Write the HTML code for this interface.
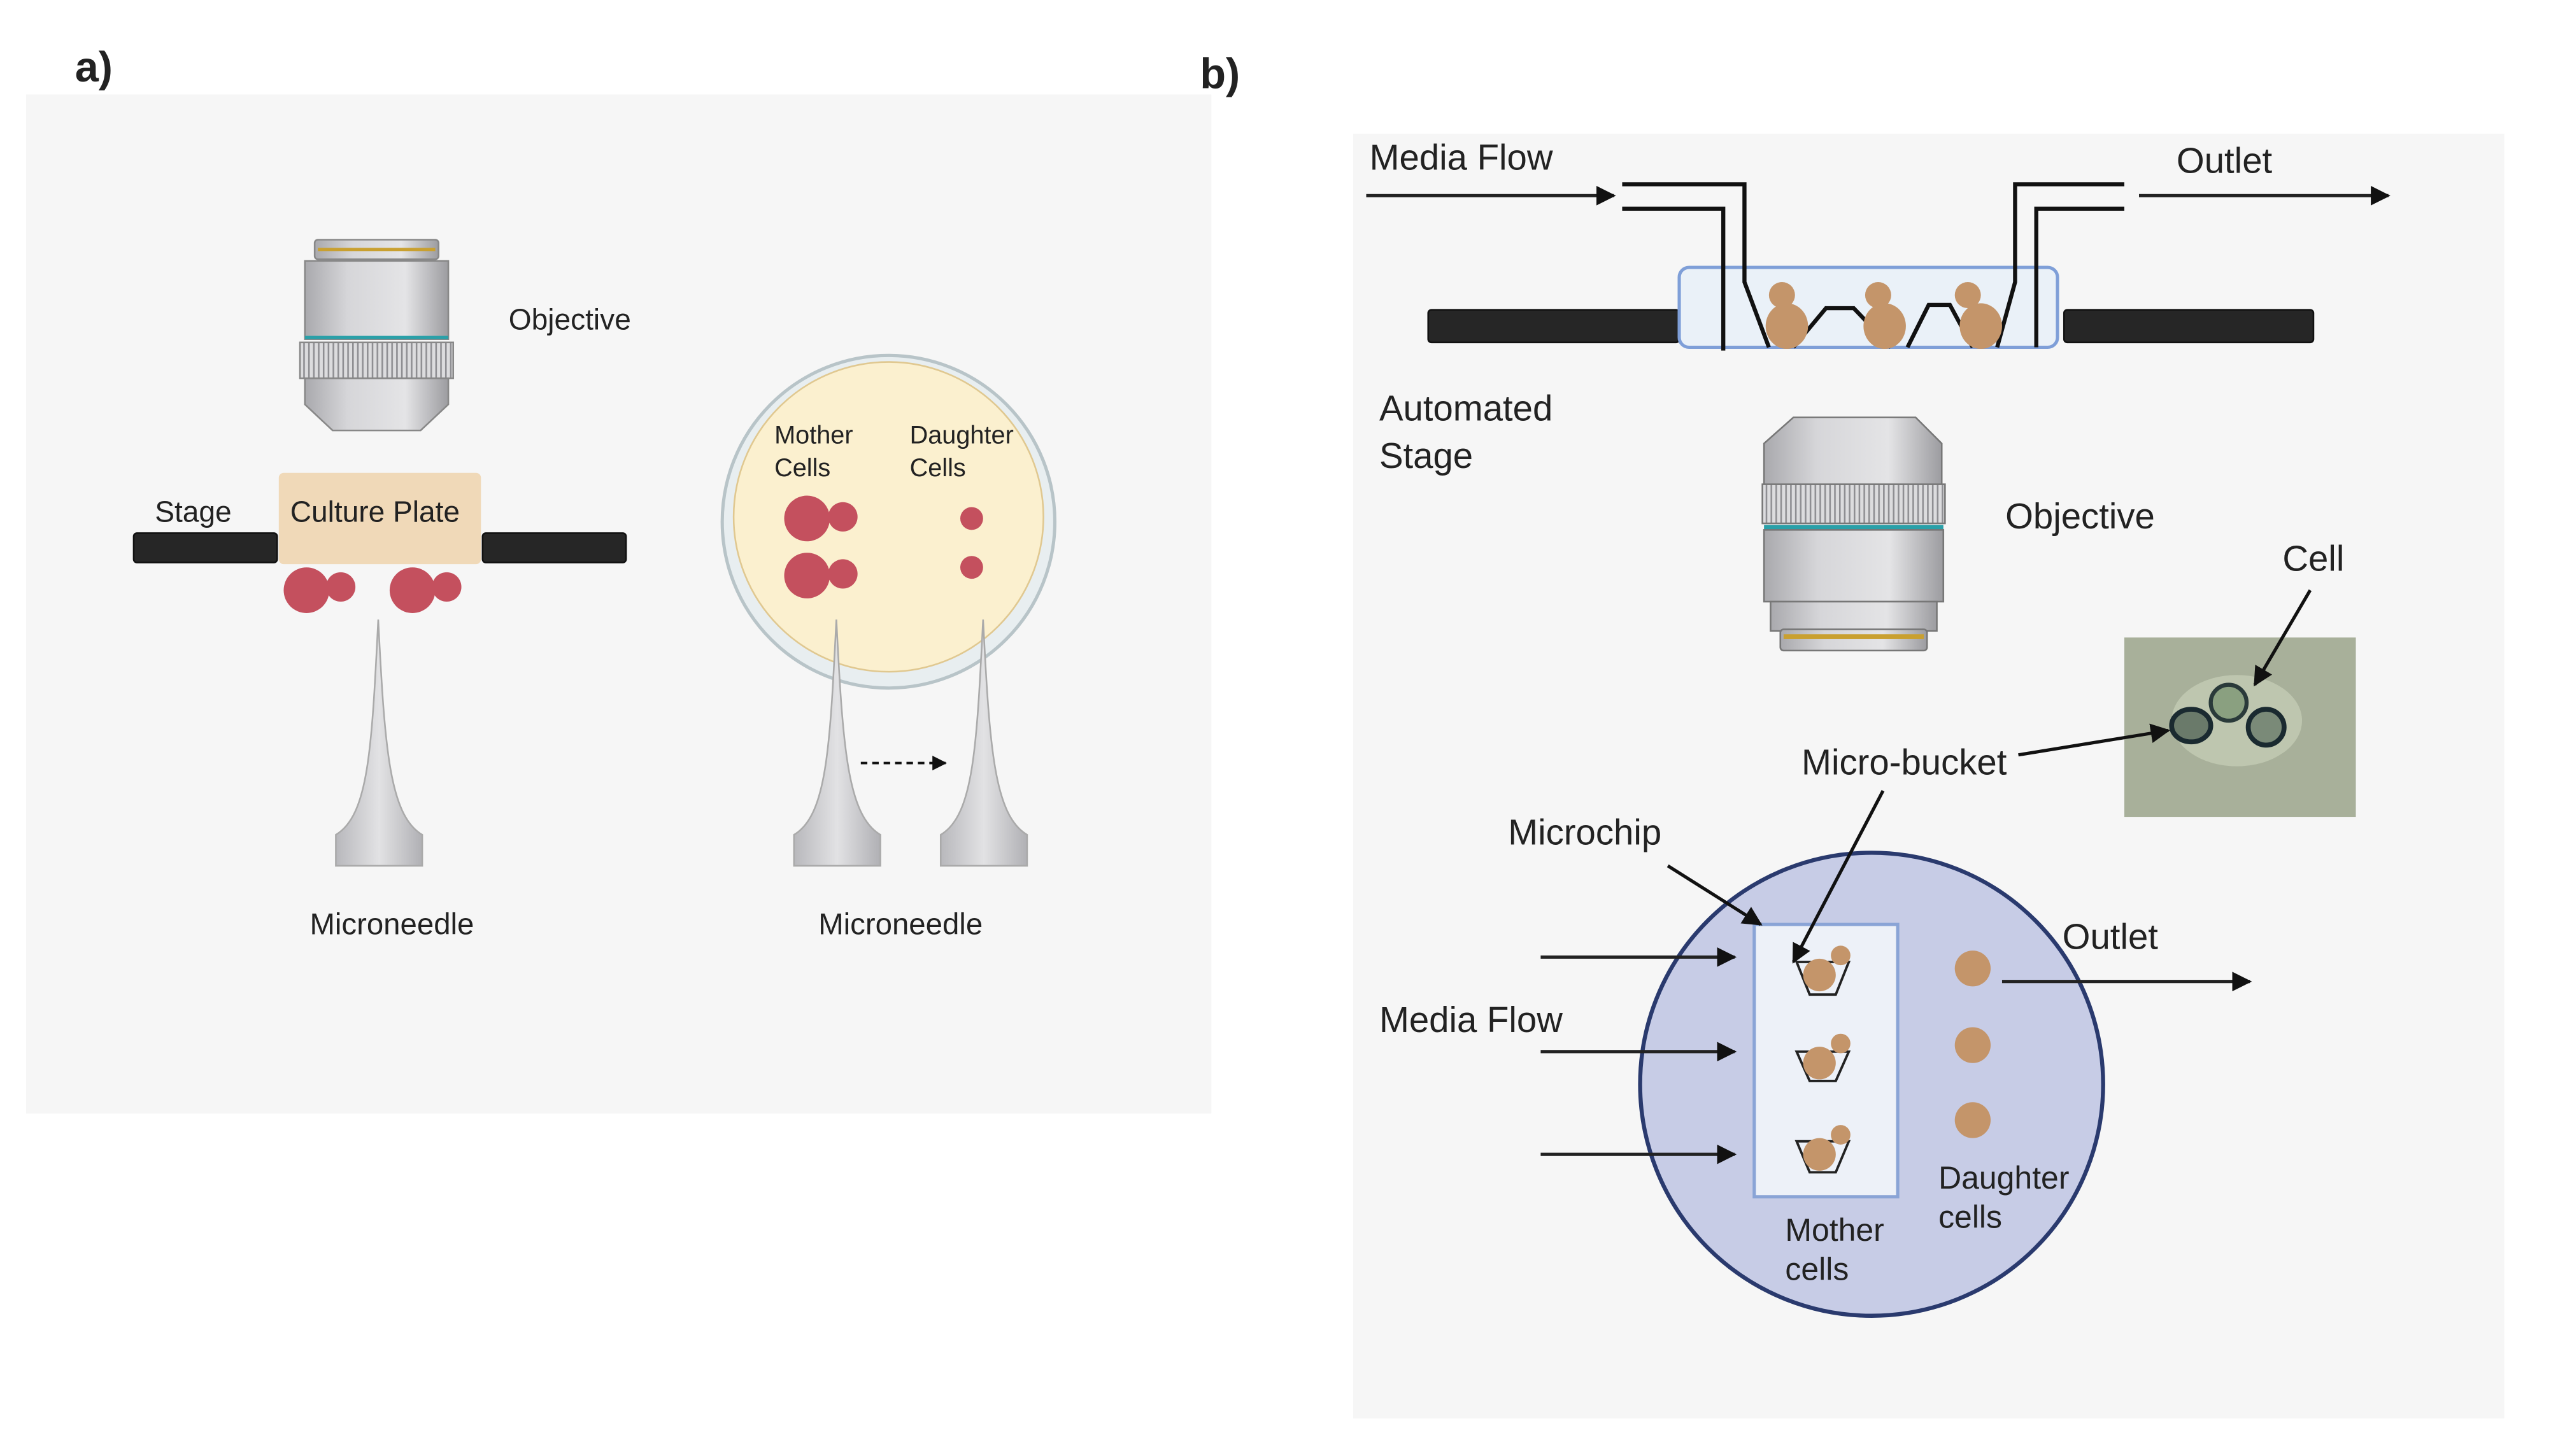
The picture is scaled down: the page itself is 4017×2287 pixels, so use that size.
<!DOCTYPE html>
<html><head><meta charset="utf-8"><style>html,body{margin:0;padding:0;background:#fff}svg{display:block}text{font-family:"Liberation Sans",sans-serif;fill:#222}</style></head>
<body>
<svg width="4017" height="2287" viewBox="0 0 1569 893" preserveAspectRatio="none" xmlns="http://www.w3.org/2000/svg">
<defs>
<linearGradient id="lens" x1="0" x2="1"><stop offset="0" stop-color="#a9a9ad"/><stop offset=".3" stop-color="#d6d6d9"/><stop offset=".7" stop-color="#e4e4e6"/><stop offset="1" stop-color="#9c9ca0"/></linearGradient>
<linearGradient id="needle" x1="0" x2="1"><stop offset="0" stop-color="#b8b8bc"/><stop offset=".5" stop-color="#e2e2e4"/><stop offset="1" stop-color="#b0b0b4"/></linearGradient>
<marker id="ar" viewBox="0 0 10 10" refX="9" refY="5" markerWidth="6" markerHeight="6" orient="auto"><path d="M0,0L10,5L0,10z" fill="#111"/></marker>
<pattern id="ridge" width="3" height="10" patternUnits="userSpaceOnUse"><rect width="3" height="10" fill="#dcdcde"/><rect width="1" height="10" fill="#8e8e92"/></pattern>
</defs>
<rect width="1569" height="893" fill="#fff"/>
<rect x="16" y="58" width="727" height="625" fill="#f6f6f6"/>
<rect x="830" y="82" width="706" height="788" fill="#f6f6f6"/>
<text x="46" y="50" font-size="26" font-weight="bold">a)</text>
<text x="736" y="54" font-size="26" font-weight="bold">b)</text>

<g>
<rect x="193" y="147" width="76" height="12" rx="2" fill="url(#lens)" stroke="#888"/>
<rect x="195" y="152" width="72" height="2" fill="#c9a030"/>
<rect x="187" y="160" width="88" height="48" fill="url(#lens)" stroke="#888"/>
<rect x="187" y="206" width="88" height="2" fill="#2aa0a8"/>
<rect x="184" y="210" width="94" height="22" fill="url(#ridge)" stroke="#888"/>
<path d="M187,232 L275,232 L275,248 L258,264 L204,264 L187,248Z" fill="url(#lens)" stroke="#888"/>
</g>
<text x="312" y="202" font-size="18">Objective</text>
<rect x="82" y="327" width="88" height="18" rx="2" fill="#262626" stroke="#111"/>
<rect x="296" y="327" width="88" height="18" rx="2" fill="#262626" stroke="#111"/>
<rect x="171" y="290" width="124" height="56" rx="3" fill="#f0d9b8"/>
<text x="178" y="320" font-size="18">Culture Plate</text>
<text x="95" y="320" font-size="18">Stage</text>
<g fill="#c4505e"><circle cx="188" cy="362" r="14"/><circle cx="209" cy="360" r="9"/><circle cx="253" cy="362" r="14"/><circle cx="274" cy="360" r="9"/></g>
<path d="M232,380 C228,460 226,500 206,512 L206,531 L259,531 L259,512 C239,500 236,460 232,380Z" fill="url(#needle)" stroke="#aaa"/>
<text x="190" y="573" font-size="18.5">Microneedle</text>

<circle cx="545" cy="320" r="102" fill="#e8eef0" stroke="#b8c4c8" stroke-width="2"/>
<circle cx="545" cy="317" r="95" fill="#fbf0cf" stroke="#e0c890"/>
<text x="475" y="272" font-size="15.5">Mother</text><text x="475" y="292" font-size="15.5">Cells</text>
<text x="558" y="272" font-size="15.5">Daughter</text><text x="558" y="292" font-size="15.5">Cells</text>
<g fill="#c4505e"><circle cx="495" cy="318" r="14"/><circle cx="517" cy="317" r="9"/><circle cx="495" cy="353" r="14"/><circle cx="517" cy="352" r="9"/><circle cx="596" cy="318" r="7"/><circle cx="596" cy="348" r="7"/></g>
<path d="M513,380 C509,460 507,500 487,512 L487,531 L540,531 L540,512 C520,500 517,460 513,380Z" fill="url(#needle)" stroke="#aaa"/>
<path d="M603,380 C599,460 597,500 577,512 L577,531 L630,531 L630,512 C610,500 607,460 603,380Z" fill="url(#needle)" stroke="#aaa"/>
<line x1="528" y1="468" x2="580" y2="468" stroke="#111" stroke-width="1.5" stroke-dasharray="4,3" marker-end="url(#ar)"/>
<text x="502" y="573" font-size="18.5">Microneedle</text>

<text x="840" y="104" font-size="22">Media Flow</text>
<text x="1335" y="106" font-size="22">Outlet</text>
<line x1="838" y1="120" x2="990" y2="120" stroke="#222" stroke-width="2" marker-end="url(#ar)"/>
<line x1="1312" y1="120" x2="1465" y2="120" stroke="#222" stroke-width="2" marker-end="url(#ar)"/>
<rect x="876" y="190" width="154" height="20" rx="2" fill="#262626" stroke="#111"/>
<rect x="1266" y="190" width="153" height="20" rx="2" fill="#262626" stroke="#111"/>
<rect x="1030" y="164" width="232" height="49" rx="6" fill="#eaf1f8" stroke="#7f9fd8" stroke-width="2"/>
<g fill="none" stroke="#111" stroke-width="2.5">
<path d="M995,113 L1070,113 L1070,173 L1085,213"/>
<path d="M995,128 L1057,128 L1057,215"/>
<path d="M1303,113 L1236,113 L1236,173 L1225,213"/>
<path d="M1303,128 L1249,128 L1249,213"/>
<path d="M1100,213 L1120,189 L1137,189 L1160,213"/>
<path d="M1170,213 L1183,187 L1196,187 L1210,213"/>
</g>
<g fill="#c4956a"><circle cx="1093" cy="181" r="8"/><ellipse cx="1096" cy="200" rx="13" ry="14"/><circle cx="1152" cy="181" r="8"/><ellipse cx="1156" cy="200" rx="13" ry="14"/><circle cx="1207" cy="181" r="8"/><ellipse cx="1215" cy="200" rx="13" ry="14"/></g>
<text x="846" y="258" font-size="22">Automated</text>
<text x="846" y="287" font-size="22">Stage</text>
<g>
<path d="M1100,256 L1175,256 L1191,272 L1191,298 L1082,298 L1082,272Z" fill="url(#lens)" stroke="#777"/>
<rect x="1081" y="297" width="112" height="24" fill="url(#ridge)" stroke="#777"/>
<rect x="1082" y="322" width="110" height="3" fill="#2aa0a8"/>
<rect x="1082" y="325" width="110" height="44" fill="url(#lens)" stroke="#777"/>
<rect x="1086" y="369" width="102" height="18" fill="url(#lens)" stroke="#777"/>
<rect x="1092" y="386" width="90" height="13" rx="2" fill="url(#lens)" stroke="#777"/>
<rect x="1094" y="389" width="86" height="3" fill="#c9a030"/>
</g>
<text x="1230" y="324" font-size="22">Objective</text>
<text x="1400" y="350" font-size="22">Cell</text>
<rect x="1303" y="391" width="142" height="110" fill="#a8b09a"/>
<ellipse cx="1372" cy="442" rx="40" ry="28" fill="#c8d0b8" opacity=".7"/>
<ellipse cx="1344" cy="445" rx="12" ry="10" fill="#6a7a6a" stroke="#1a2a30" stroke-width="3"/>
<ellipse cx="1367" cy="431" rx="11" ry="11" fill="#8aa080" stroke="#2a3a3a" stroke-width="2.5"/>
<ellipse cx="1390" cy="446" rx="11" ry="11" fill="#7a8a78" stroke="#1a2a30" stroke-width="3"/>
<line x1="1417" y1="362" x2="1383" y2="420" stroke="#111" stroke-width="2" marker-end="url(#ar)"/>
<line x1="1238" y1="463" x2="1330" y2="448" stroke="#111" stroke-width="2" marker-end="url(#ar)"/>
<text x="1105" y="475" font-size="22">Micro-bucket</text>
<text x="925" y="518" font-size="22">Microchip</text>
<circle cx="1148" cy="665" r="142" fill="#c7cce6" stroke="#2a3a6e" stroke-width="2.5"/>
<rect x="1076" y="567" width="88" height="167" fill="#edf1f8" stroke="#8aa4d6" stroke-width="2"/>
<line x1="1023" y1="531" x2="1080" y2="567" stroke="#111" stroke-width="2" marker-end="url(#ar)"/>
<line x1="1155" y1="485" x2="1100" y2="590" stroke="#111" stroke-width="2" marker-end="url(#ar)"/>
<g fill="none" stroke="#222" stroke-width="1.5"><path d="M1102,590 L1134,590 L1126,610 L1110,610Z"/><path d="M1102,645 L1134,645 L1126,663 L1110,663Z"/><path d="M1102,700 L1134,700 L1126,719 L1110,719Z"/></g>
<g fill="#c4956a"><circle cx="1116" cy="598" r="10"/><circle cx="1129" cy="586" r="6"/><circle cx="1116" cy="652" r="10"/><circle cx="1129" cy="640" r="6"/><circle cx="1116" cy="708" r="10"/><circle cx="1129" cy="696" r="6"/><circle cx="1210" cy="594" r="11"/><circle cx="1210" cy="641" r="11"/><circle cx="1210" cy="687" r="11"/></g>
<line x1="945" y1="587" x2="1064" y2="587" stroke="#222" stroke-width="2" marker-end="url(#ar)"/>
<line x1="945" y1="645" x2="1064" y2="645" stroke="#222" stroke-width="2" marker-end="url(#ar)"/>
<line x1="945" y1="708" x2="1064" y2="708" stroke="#222" stroke-width="2" marker-end="url(#ar)"/>
<line x1="1228" y1="602" x2="1380" y2="602" stroke="#222" stroke-width="2" marker-end="url(#ar)"/>
<text x="846" y="633" font-size="22">Media Flow</text>
<text x="1265" y="582" font-size="22">Outlet</text>
<text x="1189" y="729" font-size="19.5">Daughter</text>
<text x="1189" y="753" font-size="19.5">cells</text>
<text x="1095" y="761" font-size="19.5">Mother</text>
<text x="1095" y="785" font-size="19.5">cells</text>
</svg>
</body></html>
